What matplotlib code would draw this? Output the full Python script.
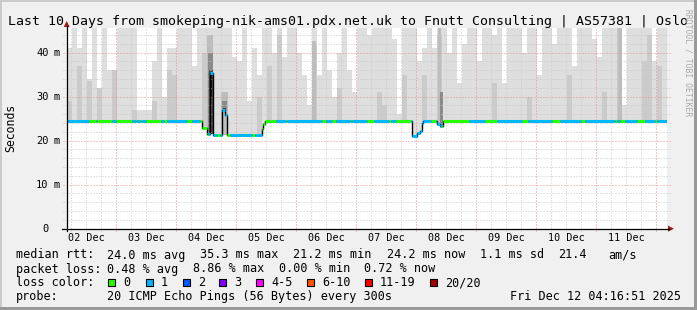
import matplotlib
matplotlib.use('Agg')
import matplotlib.pyplot as plt
from matplotlib.patches import Rectangle, Polygon
from matplotlib.transforms import blended_transform_factory
import numpy as np

W, H = 697, 310
MONO = 'DejaVu Sans Mono'

# ---------------- data ----------------
title = 'Last 10 Days from smokeping-nik-ams01.pdx.net.uk to Fnutt Consulting | AS57381 | Oslo'
end_stamp = 'Fri Dec 12 04:16:51 2025'
end_hour_of_day = 4 + 16 / 60 + 51 / 3600   # graph ends at 04:16:51
span_hours = 240
day_labels = ['02 Dec', '03 Dec', '04 Dec', '05 Dec', '06 Dec',
              '07 Dec', '08 Dec', '09 Dec', '10 Dec', '11 Dec']
y_ticks = [0, 10, 20, 30, 40]
y_top = 45.6

# smoke, one value per 2 hour block (ms)
block_hours = 2
smoke_hi = [41, 46, 41, 46, 34, 46, 32, 46, 36, 36, 46, 46, 46, 46, 27, 27, 27, 38, 46, 30,
            41, 41, 46, 46, 46, 37, 46, 46, 46, 46, 46, 46, 46, 39, 38, 46, 29, 41, 35, 46,
            46, 40, 46, 39, 46, 46, 40, 35, 28, 46, 35, 46, 36, 30, 40, 46, 36, 31, 46, 46,
            44, 46, 46, 46, 46, 43, 26, 46, 46, 46, 38, 41, 46, 41, 46, 46, 40, 46, 33, 42,
            46, 46, 38, 46, 46, 44, 46, 33, 46, 46, 46, 40, 46, 46, 35, 46, 46, 42, 46, 46,
            46, 37, 46, 46, 46, 43, 39, 46, 46, 46, 46, 28, 46, 46, 46, 46, 46, 38, 46, 46]
smoke_mid = [29, 0, 37, 0, 33.5, 0, 32, 0, 0, 36, 0, 0, 0, 27, 0, 0, 0, 29, 0, 0,
             36, 35, 0, 0, 0, 0, 0, 40, 0, 0, 0, 0, 0, 0, 0, 0, 0, 0, 30, 0,
             37, 0, 44, 0, 0, 0, 0, 0, 0, 42, 0, 0, 0, 0, 32, 0, 0, 0, 0, 0,
             0, 0, 31, 28, 0, 0, 0, 35, 0, 0, 0, 35, 0, 0, 44, 0, 0, 0, 0, 0,
             0, 0, 0, 0, 0, 33, 0, 0, 0, 0, 0, 0, 30, 0, 0, 0, 0, 0, 0, 0,
             35, 0, 0, 0, 0, 0, 0, 31, 0, 0, 46, 0, 0, 0, 0, 38, 44, 0, 37, 0]

# median rtt, step series (hours since start, ms)
med_t = [0, 53.9, 55.9, 57.0, 58.3, 61.9, 63.0, 63.9, 77.9, 78.4, 79.2,
         137.8, 140.0, 141.0, 141.8, 142.4, 147.9, 149.2, 150.4, 240]
med_v = [24.4, 22.9, 21.6, 35.3, 21.3, 27.0, 25.8, 21.3, 22.6, 23.8, 24.4,
         21.0, 21.8, 22.3, 24.1, 24.4, 23.8, 23.3, 24.4, 24.4]

# periods with 0 lost pings (green), the rest had 1 lost (blue)
green_from = [8.8, 12.1, 19.5, 27.5, 29.5, 31.5, 38.8, 48.1, 53.2, 59.9, 63.9, 73.9, 77.9, 87.5,
              102.1, 106.1, 113.5, 120.1, 128.8, 131.5, 145.5, 150.1, 167.2, 182.0, 194.0,
              205.6, 219.2, 221.2, 227.9, 235.2]
green_to = [11.5, 18.1, 26.1, 28.1, 30.1, 37.5, 40.1, 50.1, 56.5, 61.2, 65.2, 75.2, 83.5, 88.1,
            103.5, 107.5, 114.1, 122.8, 129.5, 137.5, 147.5, 160.8, 172.0, 184.4, 197.2,
            207.2, 220.0, 223.2, 231.2, 235.9]

# dense smoke around the spikes
dark_t0 = [55.9, 61.6, 148.4, 98.1, 220.4, 56.2, 62.0, 149.2, 56.6, 62.2, 57.0]
dark_t1 = [58.5, 64.2, 149.5, 99.5, 221.9, 58.4, 63.8, 150.3, 58.2, 63.4, 57.8]
dark_top = [44, 31, 46, 42.7, 46, 40, 29, 31, 36, 27.5, 30]
dark_level = [0, 0, 0, 0, 0, 1, 1, 1, 2, 2, 3]

loss_labels = ['0', '1', '2', '3', '4-5', '6-10', '11-19', '20/20']
loss_colors = ['#26ff00', '#00b8ff', '#0059ff', '#7e00ff', '#ff00ff', '#ff5500', '#ff0000', '#a10000']

rtt_row = ['median rtt:', '24.0 ms avg', '35.3 ms max', '21.2 ms min', '24.2 ms now',
           '1.1 ms sd', '21.4', 'am/s']
loss_row = ['packet loss:', '0.48 % avg', '8.86 % max', '0.00 % min', '0.72 % now']
probe_text = '20 ICMP Echo Pings (56 Bytes) every 300s'


def step_at(ts, vs, t):
    i = np.searchsorted(ts, t, side='right') - 1
    return vs[max(0, min(i, len(vs) - 1))]


fig = plt.figure(figsize=(W / 100, H / 100), dpi=100, facecolor='#f0f0f0')
ax = fig.add_axes([67 / W, 1 - 228.7 / H, 600 / W, 200.7 / H])
ax.set_facecolor('white')
ax.set_xlim(0, span_hours)
ax.set_ylim(0, y_top)
ax.set_xticks([])
ax.set_yticks([])
for s in ax.spines.values():
    s.set_visible(False)

# smoke
edges = sorted(set(list(np.arange(0, span_hours + 1, block_hours)) + med_t))
bots = [step_at(med_t, med_v, t) for t in edges]
blk = [min(int(t // block_hours), len(smoke_hi) - 1) for t in edges]
tops = [max(smoke_hi[b], lo) for b, lo in zip(blk, bots)]
mids = [max(smoke_mid[b], lo) for b, lo in zip(blk, bots)]
ax.fill_between(edges, bots, tops, step='post', color='#dedede', lw=0, zorder=1)
ax.fill_between(edges, bots, mids, step='post', color='#cbcbcb', lw=0, zorder=1.1)
shades = ['#bdbdbd', '#8a8a8a', '#4a4a4a', '#1a1a1a']
for t0, t1, top, lv in zip(dark_t0, dark_t1, dark_top, dark_level):
    lo = step_at(med_t, med_v, t0)
    ax.fill_between([t0, t1], [lo, lo], [top, top], color=shades[lv], lw=0, zorder=1.2 + lv * 0.1)

# grid
first_midnight = 24 - end_hour_of_day
minor_x = np.arange(first_midnight - 18, span_hours, 6)
major_x = np.arange(first_midnight, span_hours, 24)
for v in np.arange(2, y_top, 2):
    major = v % 10 == 0
    ax.plot([-1.6, span_hours + 1.2], [v, v], color='#e89090' if major else '#c8c8c8',
            lw=0.72, ls=(0, (1, 2)), zorder=2, clip_on=False)
for t in minor_x:
    major = np.any(np.isclose(major_x, t))
    ax.plot([t, t], [-0.5, y_top], color='#e89090' if major else '#c8c8c8',
            lw=0.72, ls=(0, (1, 2)), zorder=2, clip_on=False)

# median line: thin black connector + loss coloured segments
ax.step(med_t, med_v, where='post', color='black', lw=1.0, zorder=3)
cuts = sorted(set([t for t in med_t + green_from + green_to if 0 <= t <= span_hours]))
seg_y, seg_a, seg_b, seg_c = [], [], [], []
for a, b in zip(cuts[:-1], cuts[1:]):
    green = any(g0 <= a < g1 for g0, g1 in zip(green_from, green_to))
    seg_y.append(step_at(med_t, med_v, a))
    seg_a.append(a)
    seg_b.append(b)
    seg_c.append(loss_colors[0] if green else loss_colors[1])
ax.hlines(seg_y, seg_a, seg_b, colors=seg_c, lw=2.2, zorder=4)

# decoration layer in pixel coordinates
deco = fig.add_axes([0, 0, 1, 1], zorder=5)
deco.set_xlim(0, W)
deco.set_ylim(H, 0)
deco.axis('off')

deco.add_patch(Rectangle((0, 0), W, 2, color='#cbcbcb', lw=0))
deco.add_patch(Rectangle((0, 0), 2, H, color='#cbcbcb', lw=0))
deco.add_patch(Rectangle((W - 3, 0), 3, H, color='#999999', lw=0))
deco.add_patch(Rectangle((0, H - 3), W, 3, color='#999999', lw=0))

# axes with arrows
deco.plot([66.7, 66.7], [231, 26], color='black', lw=0.9)
deco.plot([62, 669], [228.7, 228.7], color='black', lw=0.9)
deco.add_patch(Polygon([(63.7, 27), (69.7, 27), (66.7, 21)], color='#a01818', lw=0))
deco.add_patch(Polygon([(668, 225.7), (668, 231.7), (674, 228.7)], color='#a01818', lw=0))

deco.text(348, 24.5, title, fontsize=9.55, family=MONO, ha='center', va='baseline')
deco.text(10.5, 127.5, 'Seconds', fontsize=8.3, family=MONO, rotation=90, ha='center', va='center')
deco.text(688, 63, 'RRDTOOL / TOBI OETIKER', fontsize=5.8, family=MONO, rotation=270,
          ha='center', va='center', color='#aaaaaa')

ytr = blended_transform_factory(deco.transData, ax.transData)
for v in y_ticks:
    deco.text(48.5, v, str(v), transform=ytr, fontsize=7.5, family=MONO, ha='right', va='center')
    if v:
        deco.text(53.3, v, 'm', transform=ytr, fontsize=7.5, family=MONO, ha='left', va='center')

xtr = blended_transform_factory(ax.transData, deco.transData)
for k, lab in enumerate(day_labels):
    deco.text(first_midnight - 12 + 24 * k, 240.8, lab, transform=xtr, fontsize=7.3,
              family=MONO, ha='center', va='baseline')

# legend
fs = 8.45
for txt, x in zip(rtt_row, [16, 107.3, 200, 293.3, 386.7, 480, 558.3, 608.3]):
    deco.text(x, 258.5, txt, fontsize=fs, family=MONO, va='baseline')
for txt, x in zip(loss_row, [16, 107.3, 193, 278.7, 364.4]):
    deco.text(x, 272.5, txt, fontsize=fs, family=MONO, va='baseline')
deco.text(16, 286.5, 'loss color:', fontsize=fs, family=MONO, va='baseline')
for lab, col, x in zip(loss_labels, loss_colors, [108.3, 145.7, 182.7, 219.3, 256, 307.3, 365, 430]):
    deco.add_patch(Rectangle((x, 278.5), 7, 7, facecolor=col, edgecolor='black', lw=0.8))
    deco.text(x + 15, 286.5, lab, fontsize=fs, family=MONO, va='baseline')
deco.text(16, 300.3, 'probe:', fontsize=fs, family=MONO, va='baseline')
deco.text(107.3, 300.3, probe_text, fontsize=fs, family=MONO, va='baseline')
deco.text(680.5, 300.3, end_stamp, fontsize=fs, family=MONO, va='baseline', ha='right')

fig.savefig('out.png', dpi=100, facecolor=fig.get_facecolor())
